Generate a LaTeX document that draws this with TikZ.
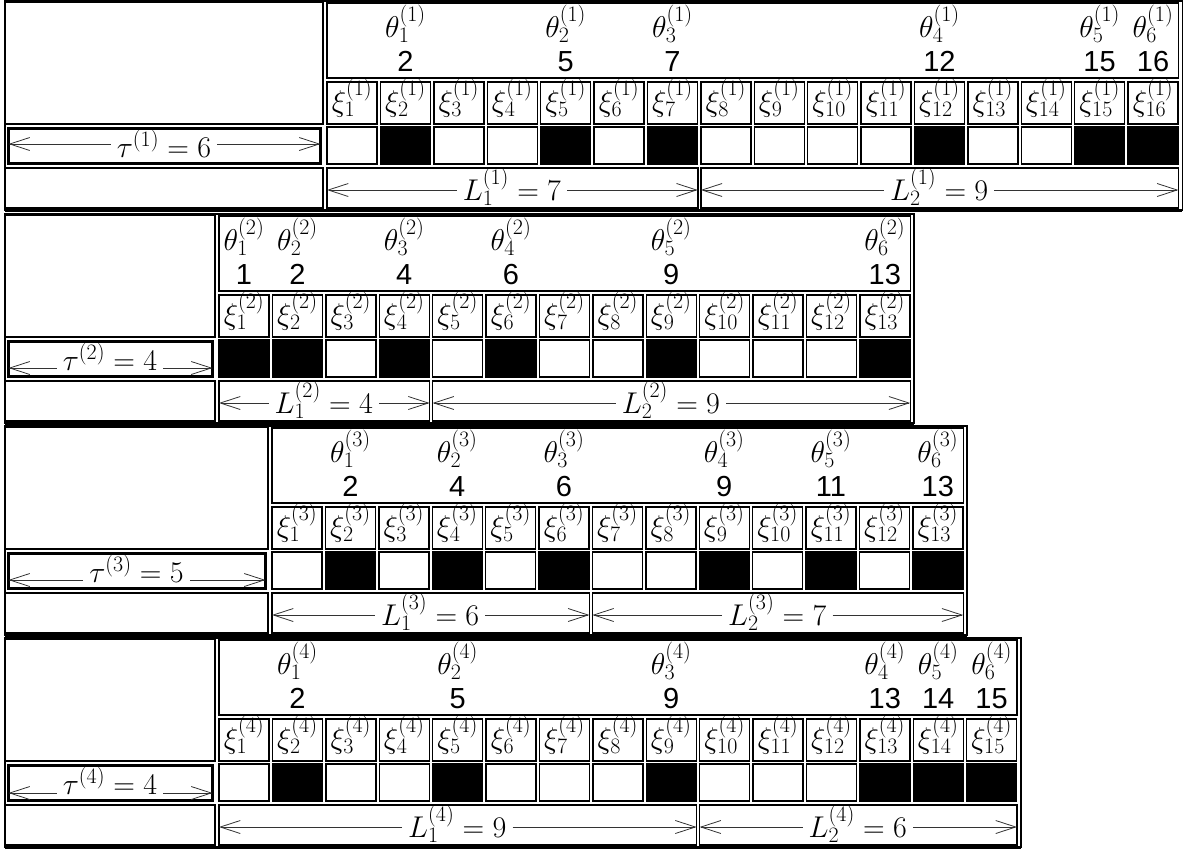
\RequirePackage{fix-cm}
\documentclass[tikz,border=0pt]{standalone}
\usepackage[no-math]{fontspec}
\setmainfont{Liberation Sans}
\usetikzlibrary{arrows.meta,positioning}
\newcommand{\scrpt}[1]{\mbox{\fontsize{22}{24}\selectfont$#1$}}

\begin{document}
\begin{tikzpicture}[
    x=1pt, y=-1pt,
    font=\fontsize{30}{34}\selectfont,
    cell/.style={draw, rectangle, line width=1.4pt, inner sep=0pt, outer sep=0pt, anchor=north west},
    taucell/.style={cell, line width=3pt},
    xicell/.style={cell, minimum width=50pt, minimum height=42pt},
    bitcell/.style={cell, minimum width=50pt, minimum height=37pt},
    mathlab/.style={anchor=base, inner sep=0pt},
    numlab/.style={anchor=base, inner sep=0pt, font=\fontsize{29}{32}\selectfont},
    dimlab/.style={anchor=base, inner xsep=6pt, inner ysep=0pt},
    blockframe/.style={draw, line width=1.5pt},
    dimarrow/.style={-{Straight Barb[length=20pt, width=13pt]}, line width=0.8pt, black!80}
]
    \useasboundingbox (0,0) rectangle (1183,855);
    \def\pitch{53.4}
    % block / top / grid start / cells / theta positions / tau / L1 / tau arrow row
    \foreach \blk/\ty/\xo/\n/\thetas/\tv/\lone/\tdy in {%
        1/1/325/16/{2,5,7,12,15,16}/6/7/143,%
        2/214/217/13/{1,2,4,6,9,13}/4/4/154,%
        3/426/270/13/{2,4,6,9,11,13}/5/6/154,%
        4/638/217/15/{2,5,9,13,14,15}/4/9/155}{
        \pgfmathsetmacro\rgt{\xo+\n*\pitch}
        \pgfmathsetmacro\xm{\xo+\lone*\pitch}
        \pgfmathtruncatemacro\ltwo{\n-\lone}
        \draw[blockframe] (5,\ty) rectangle (\rgt+3,\ty+209);
        \draw[line width=3pt] (5,\ty+209) -- (\rgt+3,\ty+209);
        % left column
        \node[cell, minimum width={\xo-7}, minimum height=122pt] (blanktop-\blk) at (5,\ty+1) {};
        \node[taucell, minimum width={\xo-13}, minimum height=35pt] (tau-\blk) at (8.5,\ty+127.5) {};
        \node[cell, minimum width={\xo-7}, minimum height=40pt] (blankbot-\blk) at (5,\ty+167) {};
        % theta row and cells
        \node[cell, minimum width={\rgt-\xo-3}, minimum height=75pt] (thetarow-\blk) at (\xo+2,\ty+2) {};
        \foreach \kk in {1,...,\n}{
            \node[xicell] (xi-\blk-\kk) at ({\xo+2+(\kk-1)*\pitch},\ty+81) {};
            \node[mathlab] (xilab-\blk-\kk) at ({\xo+27+(\kk-1)*\pitch},\ty+110) {$\xi_{\scrpt{\kk}}^{\scrpt{(\blk)}}$};
            \node[bitcell] (bit-\blk-\kk) at ({\xo+2+(\kk-1)*\pitch},\ty+126) {};
        }
        \foreach \pp [count=\ii] in \thetas{
            \fill (bit-\blk-\pp.north west) rectangle (bit-\blk-\pp.south east);
            \node[mathlab] (theta-\blk-\ii) at ({\xo+27+(\pp-1)*\pitch},\ty+36) {$\theta_{\scrpt{\ii}}^{\scrpt{(\blk)}}$};
            \node[numlab] (pos-\blk-\ii) at ({\xo+27+(\pp-1)*\pitch},\ty+70) {\pp};
        }
        % lengths
        \node[cell, minimum width={\lone*\pitch-3}, minimum height=40pt] (lone-\blk) at (\xo+2,\ty+167) {};
        \node[cell, minimum width={\rgt-\xm-3}, minimum height=40pt] (ltwo-\blk) at (\xm+2,\ty+167) {};
        \node[dimlab] (taulab-\blk) at ({(\xo+3)/2},\ty+156) {$\tau^{\scrpt{(\blk)}} = \tv$};
        \node[dimlab] (lonelab-\blk) at ({(\xo+\xm)/2},\ty+199) {$L_{\scrpt{1}}^{\scrpt{(\blk)}} = \lone$};
        \node[dimlab] (ltwolab-\blk) at ({(\xm+\rgt)/2},\ty+199) {$L_{\scrpt{2}}^{\scrpt{(\blk)}} = \ltwo$};
        \coordinate (trow-\blk) at (0,\ty+\tdy);
        \coordinate (lrow-\blk) at (0,\ty+189);
        \draw[dimarrow] (taulab-\blk.west |- trow-\blk) -- (tau-\blk.west |- trow-\blk);
        \draw[dimarrow] (taulab-\blk.east |- trow-\blk) -- (tau-\blk.east |- trow-\blk);
        \draw[dimarrow] (lonelab-\blk.west |- lrow-\blk) -- (lone-\blk.west |- lrow-\blk);
        \draw[dimarrow] (lonelab-\blk.east |- lrow-\blk) -- (lone-\blk.east |- lrow-\blk);
        \draw[dimarrow] (ltwolab-\blk.west |- lrow-\blk) -- (ltwo-\blk.west |- lrow-\blk);
        \draw[dimarrow] (ltwolab-\blk.east |- lrow-\blk) -- (ltwo-\blk.east |- lrow-\blk);
    }
\end{tikzpicture}
\end{document}
